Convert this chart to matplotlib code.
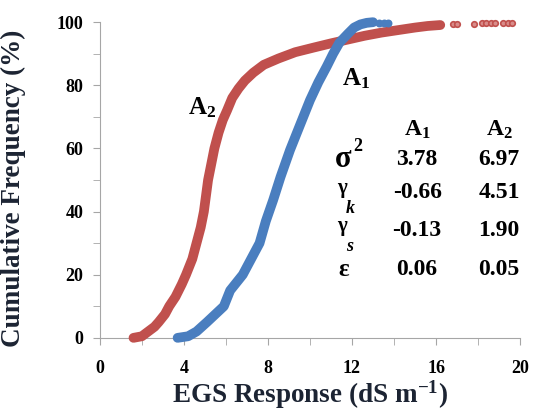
import matplotlib
matplotlib.use('Agg')
import matplotlib.pyplot as plt

plt.rcParams.update({'font.family': 'Liberation Serif',
                     'font.weight': 'bold',
                     'axes.labelweight': 'bold',
                     'mathtext.fontset': 'custom',
                     'mathtext.rm': 'Liberation Serif:bold',
                     'mathtext.it': 'Liberation Serif:italic:bold',
                     'mathtext.bf': 'Liberation Serif:bold'})

# cumulative curves (EGS response, cumulative %)
a1_x = [3.7, 4.2, 4.6, 5.1, 5.5, 5.9, 6.2, 6.5, 6.8, 7.2, 7.6, 7.9, 8.25,
        8.6, 9.05, 9.5, 10.0, 10.4, 10.8, 11.1, 11.4, 11.8, 12.1, 12.4,
        12.7, 13.0]
a1_y = [0, 0.5, 2, 5, 7.5, 10, 15, 17.5, 20, 25, 30, 37, 43.7, 51, 59.5,
        67, 75.3, 81, 86, 90, 93.5, 96.3, 98.3, 99.3, 99.8, 100]
a1_tail_x = [13.3, 13.5, 13.7]
a1_tail_y = [99.8, 99.8, 99.8]

a2_x = [1.6, 2.0, 2.3, 2.6, 2.8, 3.1, 3.3, 3.6, 3.9, 4.1, 4.4, 4.6, 4.8,
        4.95, 5.05, 5.15, 5.3, 5.45, 5.65, 5.85, 6.05, 6.3, 6.6, 6.9, 7.3,
        7.8, 8.5, 9.3, 10.2, 11.0, 11.8, 12.6, 13.4, 14.2, 15.0, 15.6, 16.2]
a2_y = [0, 0.5, 2, 3.5, 5, 7.5, 10, 13, 17, 20, 25, 30, 35, 40, 45, 50,
        55, 60, 65, 69, 72, 76, 79, 81.5, 84, 86.5, 88.5, 90.5, 92, 93.3,
        94.5, 95.7, 96.7, 97.5, 98.3, 98.8, 99.1]
a2_tail_x = [16.8, 17.0, 17.8, 18.2, 18.4, 18.6, 18.8, 19.2, 19.4, 19.6]
a2_tail_y = [99.3, 99.3, 99.5, 99.6, 99.6, 99.6, 99.7, 99.8, 99.8, 99.8]

# statistics table
stat_symbols = ['σ', 'γ', 'γ', 'ε']
stat_subs = ['', 'k', 's', '']
a1_stats = ['3.78', '-0.66', '-0.13', '0.06']
a2_stats = ['6.97', '4.51', '1.90', '0.05']

BLUE = '#4a7ebf'
RED = '#c0504d'
GRAY = '#a6a6a6'
DARK = '#1c2433'

fig = plt.figure(figsize=(5.34, 4.11), dpi=100)
ax = fig.add_axes([0.187, 0.178, 0.787, 0.768])

ax.plot(a2_x, a2_y, '-', color=RED, lw=7, solid_capstyle='round',
        clip_on=False, zorder=3)
ax.plot(a2_tail_x, a2_tail_y, 'o', color=RED, ms=4, mfc='#d98c8a',
        mew=1.2, clip_on=False, zorder=3)
ax.plot(a1_x, a1_y, '-', color=BLUE, lw=7, solid_capstyle='round',
        clip_on=False, zorder=4)
ax.plot(a1_tail_x, a1_tail_y, 'o', color=BLUE, ms=4.5, mew=1.2,
        clip_on=False, zorder=4)

ax.set_xlim(0, 20)
ax.set_ylim(0, 100)
ax.set_xticks(range(0, 21, 4))
ax.set_xticks(range(2, 21, 4), minor=True)
ax.set_yticks(range(0, 101, 20))
ax.set_yticks(range(10, 100, 20), minor=True)
ax.tick_params(which='both', direction='out', length=5, color=GRAY,
               labelsize=13)
ax.tick_params(axis='x', pad=11)
ax.tick_params(axis='y', pad=7)

for s in ['top', 'right']:
    ax.spines[s].set_visible(False)
for s in ['left', 'bottom']:
    ax.spines[s].set_color(GRAY)

ax.set_xlabel(r'EGS Response (dS m$^{\mathbf{-1}}$)', fontsize=19.5,
              color=DARK)
ax.set_ylabel('Cumulative Frequency (%)', fontsize=19.5, color=DARK)
ax.xaxis.set_label_coords(0.5, -0.13)
ax.yaxis.set_label_coords(-0.175, 0.475)

ax.text(4.85, 73, r'$\mathbf{A_2}$', fontsize=18, ha='center', va='center')
ax.text(12.2, 82, r'$\mathbf{A_1}$', fontsize=18, ha='center', va='center')

col1, col2, col0 = 15.1, 19.0, 11.6
ax.text(col1, 66, r'$\mathbf{A_1}$', fontsize=17, ha='center', va='center')
ax.text(col2, 66, r'$\mathbf{A_2}$', fontsize=17, ha='center', va='center')
row_y = [56.5, 46, 34, 21.5]
for sym, sub, v1, v2, ry in zip(stat_symbols, stat_subs, a1_stats,
                                a2_stats, row_y):
    if sym == 'σ':
        ax.text(col0, ry, 'σ', fontsize=22, ha='center', va='center')
        ax.text(col0 + 0.45, ry + 4, '2', fontsize=13, ha='left',
                va='center')
    elif sub:
        ax.text(col0 - 0.1, ry + 1.5, sym, fontsize=15, ha='center',
                va='center')
        ax.text(col0 + 0.3, ry - 5, sub, fontsize=13, style='italic',
                ha='center', va='center')
    else:
        ax.text(col0, ry, sym, fontsize=18, ha='center', va='center')
    ax.text(col1, ry, v1, fontsize=17, ha='center', va='center')
    ax.text(col2, ry, v2, fontsize=17, ha='center', va='center')

fig.savefig('out.png', dpi=100)
